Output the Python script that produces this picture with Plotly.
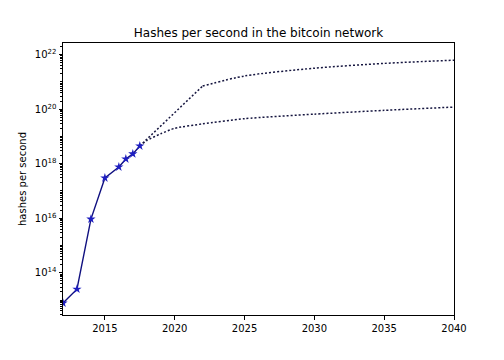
import plotly.graph_objects as go

# Historical data
hist_years = [2012, 2013, 2014, 2015, 2016, 2016.5, 2017, 2017.5]
hist_hashes = [7.7e12, 2.5e13, 9.3e15, 3.0e17, 7.6e17, 1.5e18, 2.3e18, 4.5e18]

# Projections
high_years = [2017.5, 2022, 2025, 2030, 2035, 2040]
high_hashes = [4.5e18, 7.1e20, 1.66e21, 3.2e21, 4.8e21, 6.3e21]

low_years = [2017.5, 2018, 2019, 2020, 2022, 2025, 2030, 2035, 2040]
low_hashes = [4.5e18, 7.1e18, 1.26e19, 2.0e19, 2.9e19, 4.5e19, 6.6e19, 9.1e19, 1.2e20]

x_ticks = [2015, 2020, 2025, 2030, 2035, 2040]
y_exps = [14, 16, 18, 20, 22]

FONT = "DejaVu Sans"
dot_color = "#15153f"

# page has an 8px body margin; the figure is sized to fit inside it
W, H = 496, 352
L, T = 55, 35
PW, PH = 391, 272

dot_line = dict(color=dot_color, width=1.5, dash="2px,2px")

fig = go.Figure()
# upper projection: straight ramp up to the knee, then a smooth flattening curve
fig.add_trace(go.Scatter(x=high_years[:2], y=high_hashes[:2], mode="lines",
                         line=dot_line, showlegend=False, hoverinfo="skip"))
fig.add_trace(go.Scatter(x=high_years[1:], y=high_hashes[1:], mode="lines",
                         line=dict(dot_line, shape="spline", smoothing=0.8),
                         showlegend=False, hoverinfo="skip"))
fig.add_trace(go.Scatter(x=low_years, y=low_hashes, mode="lines",
                         line=dict(dot_line, shape="spline", smoothing=0.6),
                         showlegend=False, hoverinfo="skip"))
fig.add_trace(go.Scatter(x=hist_years, y=hist_hashes, mode="lines+markers",
                         line=dict(color="#101080", width=1.4),
                         marker=dict(symbol="star", size=7, color="#1e1ec0",
                                     line=dict(width=0)),
                         showlegend=False))

minor_vals = []
for e in range(12, 23):
    for k in range(2, 10):
        minor_vals.append(k * 10.0 ** e)
    if e % 2 == 1:
        minor_vals.append(10.0 ** e)

fig.update_layout(
    width=W, height=H,
    margin=dict(l=L, r=W - L - PW, t=T, b=H - T - PH),
    paper_bgcolor="white", plot_bgcolor="white",
    font=dict(family=FONT, size=10, color="black"),
    title=dict(text="Hashes per second in the bitcoin network",
               x=(L + PW / 2) / W, xanchor="center",
               y=1 - 25 / H, yanchor="middle",
               font=dict(family=FONT, size=12, color="black")),
    xaxis=dict(range=[2012, 2040], tickvals=x_ticks,
               ticktext=[str(t) for t in x_ticks], automargin=False,
               showgrid=False, zeroline=False,
               showline=True, linecolor="black", linewidth=1, mirror=True,
               ticks="outside", ticklen=3.5, tickcolor="black", tickwidth=0.8,
               tickfont=dict(family=FONT, size=10, color="black")),
    yaxis=dict(type="log", range=[12.45, 22.43], automargin=False,
               tickvals=[10.0 ** e for e in y_exps],
               ticktext=["10<sup>%d</sup>" % e for e in y_exps],
               showgrid=False, zeroline=False,
               showline=True, linecolor="black", linewidth=1, mirror=True,
               ticks="outside", ticklen=3.5, tickcolor="black", tickwidth=0.8,
               tickfont=dict(family=FONT, size=10, color="black"),
               minor=dict(tickvals=minor_vals, ticks="outside", ticklen=2,
                          tickcolor="black", tickwidth=0.6, showgrid=False),
               title=dict(text="hashes per second", standoff=6,
                          font=dict(family=FONT, size=10, color="black"))),
)

fig.write_html("out.html")
